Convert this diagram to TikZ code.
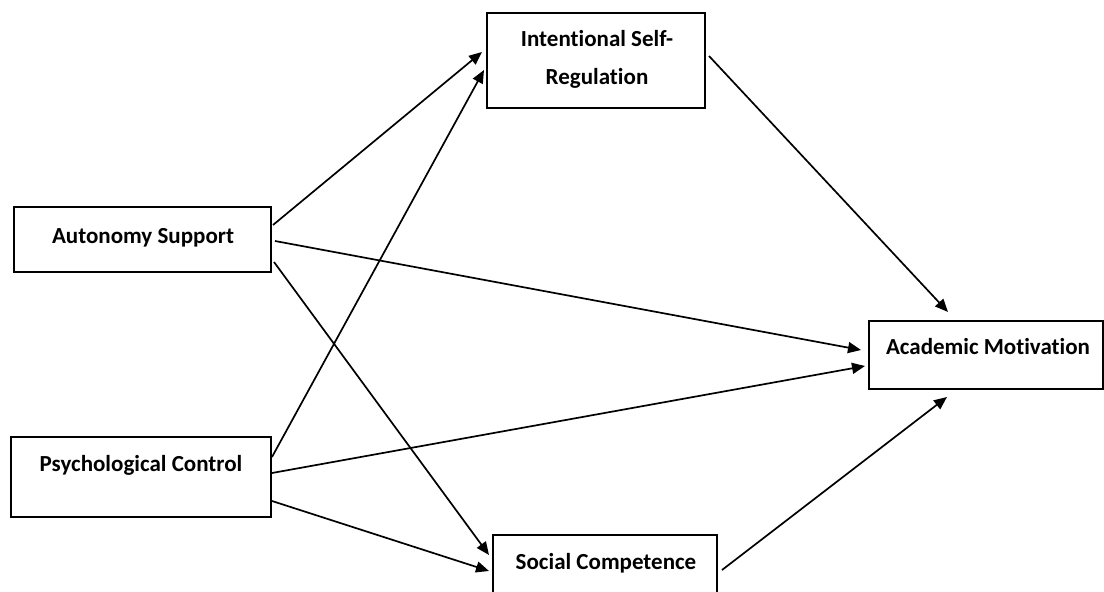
\documentclass[tikz,border=0pt]{standalone}
\usepackage{fontspec}
\setmainfont{Carlito}[Ligatures=NoCommon,RawFeature=-liga]
\usetikzlibrary{arrows.meta}
\begin{document}
\begin{tikzpicture}[x=1pt,y=-1pt,
  box/.style={draw=black,line width=2pt,rectangle,inner sep=0pt},
  lbl/.style={font=\fontsize{23}{38}\selectfont\bfseries,align=center,inner sep=0pt},
  link/.style={line width=1.7pt,-{Triangle[length=13pt,width=11pt]}}]
\useasboundingbox (0,0) rectangle (1104,592);
\clip (0,0) rectangle (1104,592);
\fill[white] (0,0) rectangle (1104,592);
% boxes
\node[box,minimum width=257pt,minimum height=65pt] (as) at (142.5,239.5) {};
\node[box,minimum width=260pt,minimum height=80pt] (pc) at (141,477) {};
\node[box,minimum width=218pt,minimum height=95pt] (isr) at (596,60.5) {};
\node[box,minimum width=224pt,minimum height=80pt] (sc) at (605,575) {};
\node[box,minimum width=234pt,minimum height=68pt] (am) at (986,355) {};
% labels
\node[lbl] (asl) at (143,238) {Autonomy Support};
\node[lbl] (pcl) at (141,465) {Psychological Control};
\node[lbl] (isrl) at (597,59) {Intentional Self-\\Regulation};
\node[lbl] (scl) at (606,563) {Social Competence};
\node[lbl] (aml) at (988,347) {Academic Motivation};
% connectors
\draw[link] ([xshift=1pt,yshift=14.5pt]as.east) -- ([xshift=-4pt,yshift=8.5pt]isr.west);
\draw[link] ([xshift=3pt,yshift=-1.5pt]as.east) -- ([xshift=-7pt,yshift=5pt]am.west);
\draw[link] ([xshift=2pt,yshift=-22.5pt]as.east) -- ([xshift=-3pt,yshift=20pt]sc.west);
\draw[link] ([yshift=20pt]pc.east) -- ([xshift=-2pt,yshift=-9.5pt]isr.west);
\draw[link] ([yshift=4pt]pc.east) -- ([xshift=-3pt,yshift=-11pt]am.west);
\draw[link] ([yshift=-24pt]pc.east) -- ([xshift=-3pt,yshift=4pt]sc.west);
\draw[link] ([xshift=3pt,yshift=4.5pt]isr.east) -- ([xshift=-38pt,yshift=8pt]am.north);
\draw[link] ([xshift=4pt,yshift=5pt]sc.east) -- ([xshift=-39pt,yshift=-7pt]am.south);
\end{tikzpicture}
\end{document}
